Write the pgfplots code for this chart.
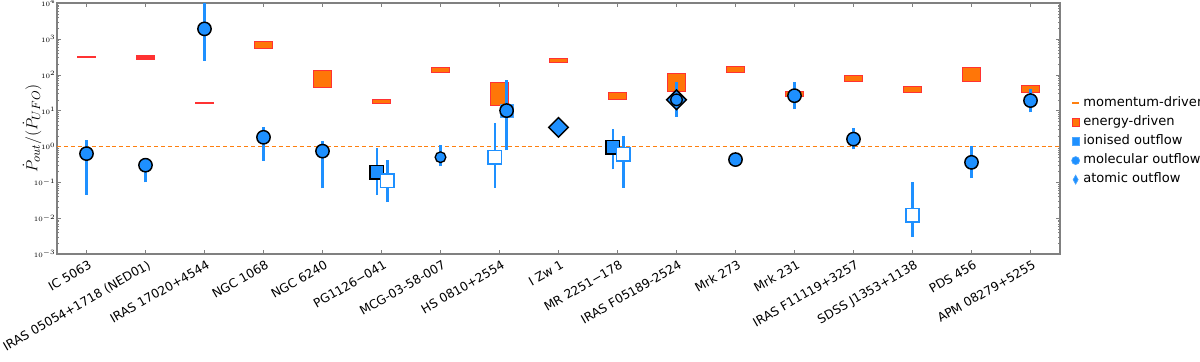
\documentclass[border=0pt]{standalone}
\usepackage{fontspec}
\setmainfont{DejaVu Sans}
\usepackage{pgfplots}
\pgfplotsset{compat=1.18}
\definecolor{mblue}{RGB}{30,144,255}
\definecolor{dorange}{RGB}{255,127,14}
\definecolor{eorange}{RGB}{255,118,8}
\definecolor{ered}{RGB}{255,50,50}
\definecolor{axgray}{RGB}{128,128,128}
\newcommand\ebox[5][eorange]{\addplot[fill=#1, draw=ered, line width=0.7pt, forget plot] coordinates {(#2,#4) (#3,#4) (#3,#5) (#2,#5)} -- cycle;}
\begin{document}
\begin{tikzpicture}
\begin{axis}[
  at={(0,0)}, anchor=south west,
  scale only axis, width=752.25pt, height=188.25pt,
  ymode=log, ymin=1e-3, ymax=1e4,
  xmin=-0.5, xmax=16.5,
  xtick={0,...,16},
  ytick={1e-3,1e-2,1e-1,1,10,100,1000,10000},
  xticklabels={IC 5063, IRAS 05054+1718 (NED01), IRAS 17020+4544, NGC 1068, NGC 6240, PG1126−041, MCG-03-58-007, HS 0810+2554, I Zw 1, MR 2251−178, IRAS F05189-2524, Mrk 273, Mrk 231, IRAS F11119+3257, SDSS J1353+1138, PDS 456, APM 08279+5255},
  xticklabel style={rotate=30, anchor=north east, font=\fontsize{9.2}{11}\selectfont, inner sep=1pt, yshift=-3pt},
  yticklabel style={font=\fontsize{4.5}{5}\selectfont, inner sep=1pt},
  axis line style={axgray, line width=0.8pt},
  tick style={axgray},
  major tick length=3pt, minor tick length=1.5pt,
  ylabel={$\dot{P}_{out}/(\dot{P}_{UFO})$},
  ylabel style={at={(axis description cs:-0.0249,0.5)}, anchor=center, font=\fontsize{13}{15}\selectfont},
  unbounded coords=jump,
  clip=true,
  legend style={at={(axis description cs:1.011,0.625)}, anchor=north west, draw=none, fill=none, inner sep=0pt,
    font=\fontsize{9.8}{11}\selectfont, row sep=5.3pt,
    nodes={inner ysep=0pt, inner xsep=2.5pt, text height=7pt, text depth=2pt}},
  legend cell align=left,
]
% momentum-driven line
\addplot[dorange, line width=1.1pt, dash pattern=on 3pt off 2.2pt, forget plot] coordinates {(-0.5,1) (16.5,1)};
% boxes
\ebox[ered]{-0.15}{0.15}{306}{324}
\ebox[ered]{0.85}{1.15}{270}{345}
\ebox[ered]{1.85}{2.15}{16.2}{17.2}
\ebox{2.85}{3.15}{530}{830}
\ebox{3.85}{4.15}{44}{129}
\ebox{4.85}{5.15}{15.6}{21}
\ebox{5.85}{6.15}{114}{155}
\ebox{6.85}{7.15}{14}{60}
\ebox{7.85}{8.15}{215}{277}
\ebox{8.85}{9.15}{21}{32}
\ebox{9.85}{10.15}{34}{107}
\ebox{10.85}{11.15}{113}{166}
\ebox{11.85}{12.15}{25}{34}
\ebox{12.85}{13.15}{64}{94}
\ebox{13.85}{14.15}{32}{47}
\ebox{14.85}{15.15}{64}{155}
\ebox{15.85}{16.15}{32}{49}
% error bars
\addplot[mblue, line width=1.8pt, forget plot] coordinates {
 (0,0.045) (0,1.5) (0,nan)
 (1,0.1) (1,0.3) (1,nan)
 (2,245) (2,20000) (2,nan)
 (3,0.4) (3,3.4) (3,nan)
 (4,0.068) (4,1.4) (4,nan)
 (4.92,0.044) (4.92,0.88) (4.92,nan)
 (5.1,0.028) (5.1,0.41) (5.1,nan)
 (6,0.28) (6,1.07) (6,nan)
 (6.92,0.07) (6.92,4.6) (6.92,nan)
 (7.12,0.78) (7.12,72) (7.12,nan)
 (8.92,0.23) (8.92,3.0) (8.92,nan)
 (9.1,0.07) (9.1,1.9) (9.1,nan)
 (10,6.8) (10,64) (10,nan)
 (12,11) (12,64) (12,nan)
 (13,0.83) (13,3.2) (13,nan)
 (14,0.003) (14,0.1) (14,nan)
 (15,0.13) (15,1.0) (15,nan)
 (16,8.9) (16,40)
};
% ionised filled squares
\addplot[only marks, mark=square*, mark size=5pt, mark options={fill=mblue, draw=black, line width=1.1pt}, forget plot] coordinates {(4.92,0.19) (8.92,0.95)};
% ionised open squares
\addplot[only marks, mark=square*, mark size=5pt, mark options={fill=white, draw=mblue, line width=1.1pt}, forget plot] coordinates {(5.1,0.11) (6.92,0.5) (9.1,0.6) (14,0.012)};
% blue square behind HS 0810 circle
\addplot[only marks, mark=square*, mark size=4.8pt, mark options={fill=mblue, draw=mblue!80, line width=0.5pt}, forget plot] coordinates {(7.12,10)};
% atomic diamonds
\addplot[only marks, mark=square*, mark size=5.2pt, mark options={fill=mblue, draw=black, line width=1.1pt, rotate=45}, forget plot] coordinates {(8,3.4) (10,20)};
% molecular circles
\addplot[only marks, mark=*, mark size=5pt, mark options={fill=mblue, draw=black, line width=1.1pt}, forget plot] coordinates {
 (0,0.63) (1,0.3) (2,1900) (3,1.8) (4,0.74) (7.12,10) (11,0.43) (12,26) (13,1.6) (15,0.36) (16,19)};
\addplot[only marks, mark=*, mark size=4pt, mark options={fill=mblue, draw=black, line width=1pt}, forget plot] coordinates {(6,0.5)};
\addplot[only marks, mark=*, mark size=4.3pt, mark options={fill=mblue, draw=black, line width=1pt}, forget plot] coordinates {(10,20)};
% legend
\addlegendimage{legend image code/.code={\draw[dorange, line width=1.4pt] (-2.5pt,0pt) -- (2.5pt,0pt);}}
\addlegendentry{momentum-driven}
\addlegendimage{legend image code/.code={\draw[fill=eorange, draw=ered, line width=0.5pt] (-2.8pt,-2.8pt) rectangle (2.8pt,2.8pt);}}
\addlegendentry{energy-driven}
\addlegendimage{legend image code/.code={\draw[fill=mblue, draw=mblue!80, line width=0.5pt] (-2.8pt,-2.8pt) rectangle (2.8pt,2.8pt);}}
\addlegendentry{ionised outflow}
\addlegendimage{legend image code/.code={\draw[fill=mblue, draw=mblue!80, line width=0.5pt] (0pt,0pt) circle (3pt);}}
\addlegendentry{molecular outflow}
\addlegendimage{legend image code/.code={\draw[fill=mblue, draw=mblue!80, line width=0.5pt] (0pt,3.4pt) -- (1.9pt,0pt) -- (0pt,-3.4pt) -- (-1.9pt,0pt) -- cycle;}}
\addlegendentry{atomic outflow}
\end{axis}
\pgfresetboundingbox
\useasboundingbox (-42.75pt,-80.25pt) rectangle (857.25pt,190.5pt);
\end{tikzpicture}
\end{document}
